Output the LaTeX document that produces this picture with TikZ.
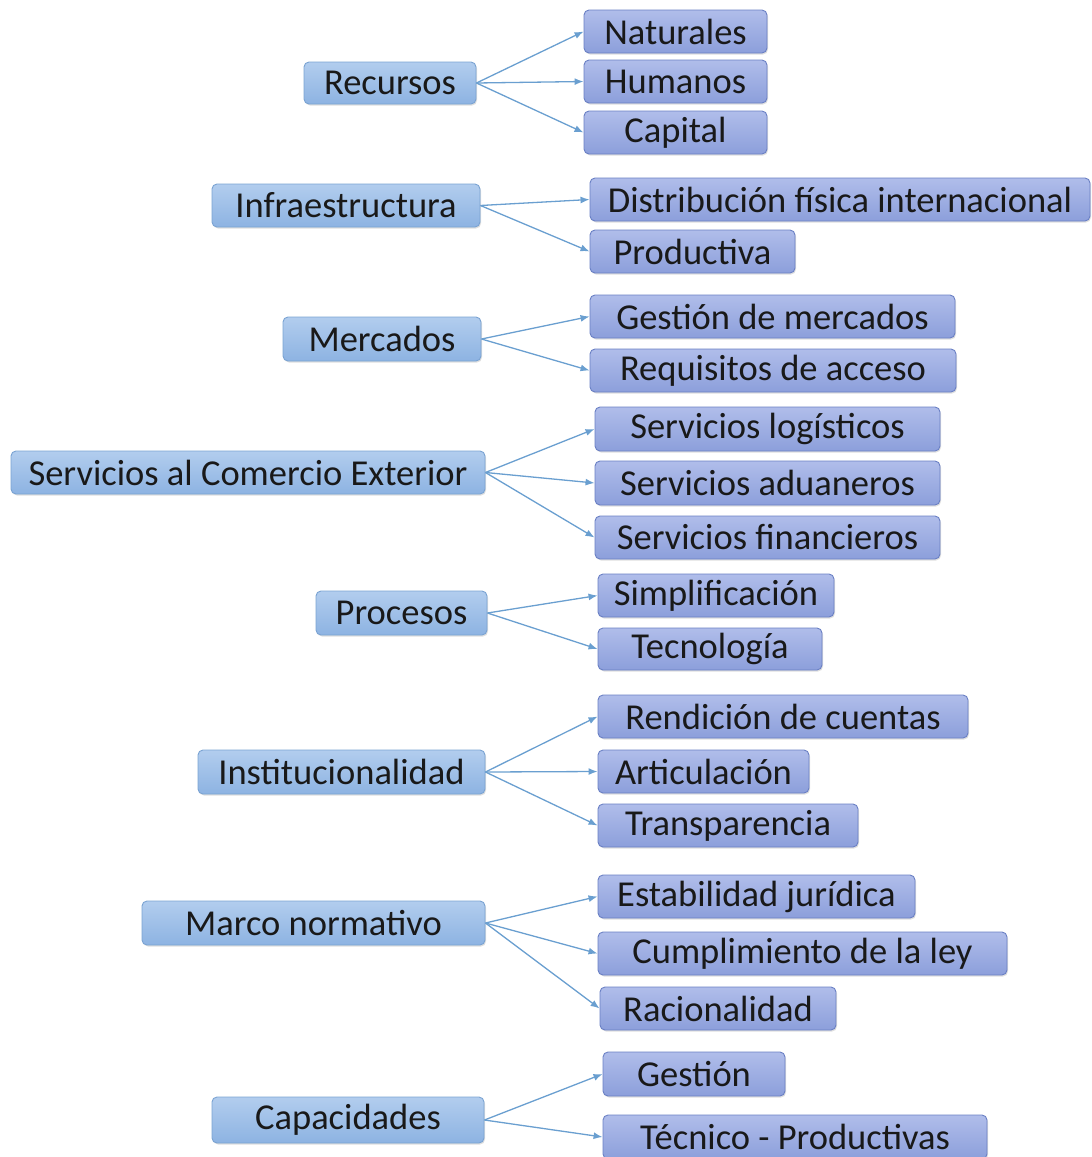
\documentclass[tikz,border=0pt]{standalone}
\usepackage{fontspec}
\setmainfont{Carlito}
\usetikzlibrary{arrows.meta,shadows}
\definecolor{ltop}{HTML}{B2CDEE}
\definecolor{lbot}{HTML}{8DB3E2}
\definecolor{ldraw}{HTML}{7AA3D2}
\definecolor{rtop}{HTML}{B0BDEA}
\definecolor{rbot}{HTML}{8C9FDB}
\definecolor{rdraw}{HTML}{6A80C4}
\definecolor{arr}{HTML}{6A9FD0}
\tikzset{
  base/.style={rectangle, rounded corners=5pt, line width=0.9pt, inner sep=0pt,
    font=\fontsize{36.5}{40}\selectfont, text=black!90,
    drop shadow={shadow xshift=1pt, shadow yshift=-1.5pt, opacity=0.25}},
  lbox/.style={base, draw=ldraw, top color=ltop, bottom color=lbot},
  rbox/.style={base, draw=rdraw, top color=rtop, bottom color=rbot},
  conn/.style={draw=arr, line width=1.3pt, -{Latex[length=9pt,width=7pt]}}
}
\newcommand{\bx}[7]{% style, name, x1, y1, x2, y2, text
  \node[#1, minimum width={#5-#3}, minimum height={#6-#4}] (#2) at ({(#3+#5)/2},{(#4+#6)/2}) {#7};}
\begin{document}
\begin{tikzpicture}[x=1pt,y=-1pt]
\useasboundingbox (0,0) rectangle (1092,1157);
% left boxes
\bx{lbox}{rec}{304}{62}{476}{104}{Recursos}
\bx{lbox}{inf}{212}{184}{480}{227}{Infraestructura}
\bx{lbox}{mer}{283}{317}{481}{361}{Mercados}
\bx{lbox}{ser}{11}{451}{485}{494}{Servicios al Comercio Exterior}
\bx{lbox}{pro}{316}{591}{487}{635}{Procesos}
\bx{lbox}{ins}{198}{750}{485}{794}{Institucionalidad}
\bx{lbox}{mar}{142}{901}{485}{945}{Marco normativo}
\bx{lbox}{cap}{212}{1097}{484}{1143}{Capacidades}
% right boxes
\bx{rbox}{nat}{584}{10}{767}{53}{Naturales}
\bx{rbox}{hum}{584}{60}{767}{103}{Humanos}
\bx{rbox}{capi}{584}{111}{767}{154}{Capital}
\bx{rbox}{dfi}{590}{178}{1090}{221}{Distribución física internacional}
\bx{rbox}{prod}{590}{230}{795}{273}{Productiva}
\bx{rbox}{gm}{590}{295}{955}{338}{Gestión de mercados}
\bx{rbox}{ra}{590}{349}{956}{392}{Requisitos de acceso}
\bx{rbox}{sl}{595}{407}{940}{451}{Servicios logísticos}
\bx{rbox}{sa}{595}{461}{940}{505}{Servicios aduaneros}
\bx{rbox}{sf}{595}{516}{940}{559}{Servicios financieros}
\bx{rbox}{sim}{598}{574}{834}{617}{Simplificación}
\bx{rbox}{tec}{598}{628}{822}{670}{Tecnología}
\bx{rbox}{ren}{598}{695}{968}{738}{Rendición de cuentas}
\bx{rbox}{art}{598}{750}{809}{793}{Articulación}
\bx{rbox}{tra}{598}{804}{858}{847}{Transparencia}
\bx{rbox}{est}{598}{875}{915}{918}{Estabilidad jurídica}
\bx{rbox}{cum}{598}{932}{1007}{975}{Cumplimiento de la ley}
\bx{rbox}{rac}{600}{987}{836}{1030}{Racionalidad}
\bx{rbox}{ges}{603}{1052}{785}{1096}{Gestión}
\bx{rbox}{tp}{603}{1115}{987}{1159}{Técnico - Productivas}
% connectors
\foreach \a/\b in {rec/nat,rec/hum,rec/capi,inf/dfi,inf/prod,mer/gm,mer/ra,
  ser/sl,ser/sa,ser/sf,pro/sim,pro/tec,ins/ren,ins/art,ins/tra,
  mar/est,mar/cum,mar/rac,cap/ges,cap/tp}
  \draw[conn] (\a.east) -- (\b.west);
\end{tikzpicture}
\end{document}
